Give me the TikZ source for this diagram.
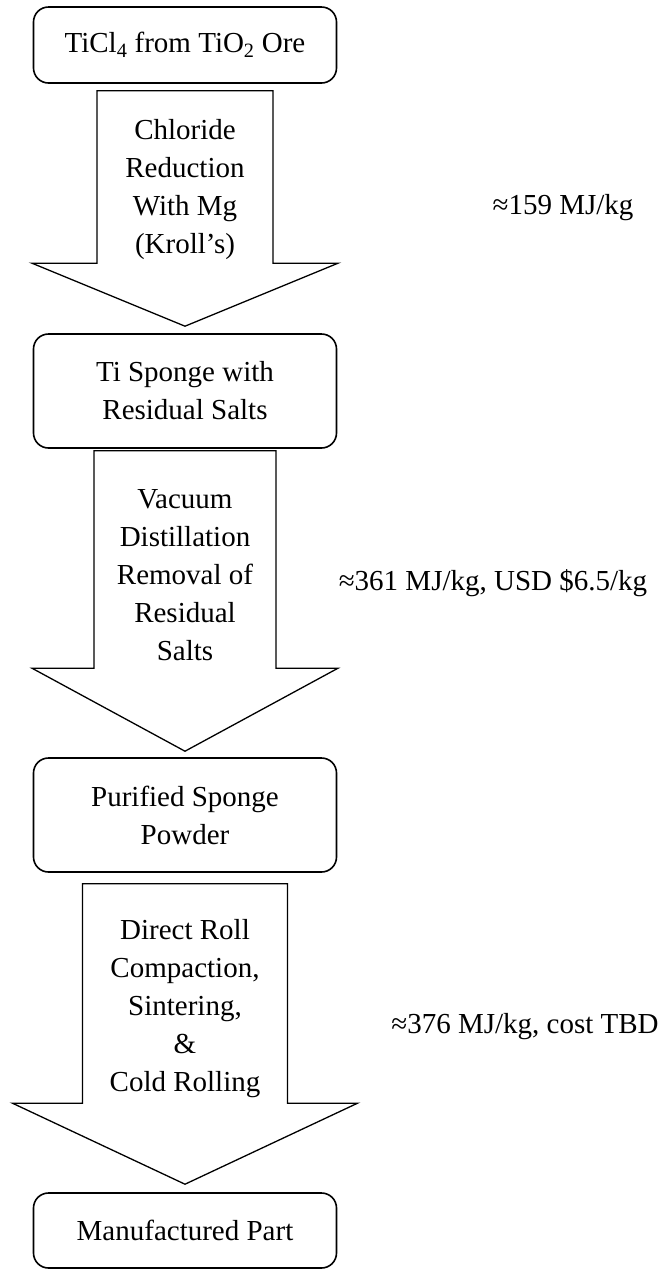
\documentclass[tikz,border=0pt]{standalone}
\usepackage{fontspec}
\setmainfont{Liberation Serif}
\usetikzlibrary{calc}
\tikzset{
  stagebox/.style={draw, line width=1.6pt, rounded corners=15pt, align=center,
    minimum width=303pt, inner sep=0pt},
  stagetext/.style={align=center, inner sep=0pt},
  costlabel/.style={inner sep=0pt},
  arrowline/.style={draw, line width=1.3pt, line join=miter}
}
% block arrow: top point, tip point, shaft half width, head half width, head length
\newcommand{\blockarrow}[5]{%
  \draw[arrowline] ($(#1)+(-#3,0)$) -- ($(#1)+(#3,0)$) -- ($(#2)+(#3,-#5)$)
    -- ($(#2)+(#4,-#5)$) -- (#2) -- ($(#2)+(-#4,-#5)$) -- ($(#2)+(-#3,-#5)$) -- cycle;}

\begin{document}
\begin{tikzpicture}[x=1pt, y=-1pt, font=\fontsize{29}{38}\selectfont]
  \useasboundingbox (0,0) rectangle (659,1270);

  \node[stagebox, minimum height=76pt] (ore) at (185,45) {TiCl\textsubscript{4} from TiO\textsubscript{2} Ore};
  \node[stagebox, minimum height=114pt] (sponge) at (185,391) {Ti Sponge with\\Residual Salts};
  \node[stagebox, minimum height=114pt] (powder) at (185,815) {Purified Sponge\\Powder};
  \node[stagebox, minimum height=75pt] (part) at (185,1230.5) {Manufactured Part};

  \coordinate (krolltop) at ($(ore.south)+(0,7)$);
  \coordinate (krolltip) at ($(sponge.north)+(0,-7)$);
  \coordinate (vacuumtop) at ($(sponge.south)+(0,2)$);
  \coordinate (vacuumtip) at ($(powder.north)+(0,-6)$);
  \coordinate (rolltop) at ($(powder.south)+(0,11)$);
  \coordinate (rolltip) at ($(part.north)+(0,-8)$);
  \blockarrow{krolltop}{krolltip}{88}{153}{63}
  \blockarrow{vacuumtop}{vacuumtip}{91}{153}{83}
  \blockarrow{rolltop}{rolltip}{102.5}{172.5}{81}

  \node[stagetext] (kroll) at (185,190) {Chloride\\Reduction\\With Mg\\(Kroll’s)};
  \node[stagetext] (vacuum) at (185,575) {Vacuum\\Distillation\\Removal of\\Residual\\Salts};
  \node[stagetext] (roll) at (185,1009) {Direct Roll\\Compaction,\\Sintering,\\\&\\Cold Rolling};

  \node[costlabel] (krollcost) at (563,208) {≈159 MJ/kg};
  \node[costlabel] (vacuumcost) at (493,583) {≈361 MJ/kg, USD \$6.5/kg};
  \node[costlabel] (rollcost) at (525,1027) {≈376 MJ/kg, cost TBD};
\end{tikzpicture}
\end{document}
